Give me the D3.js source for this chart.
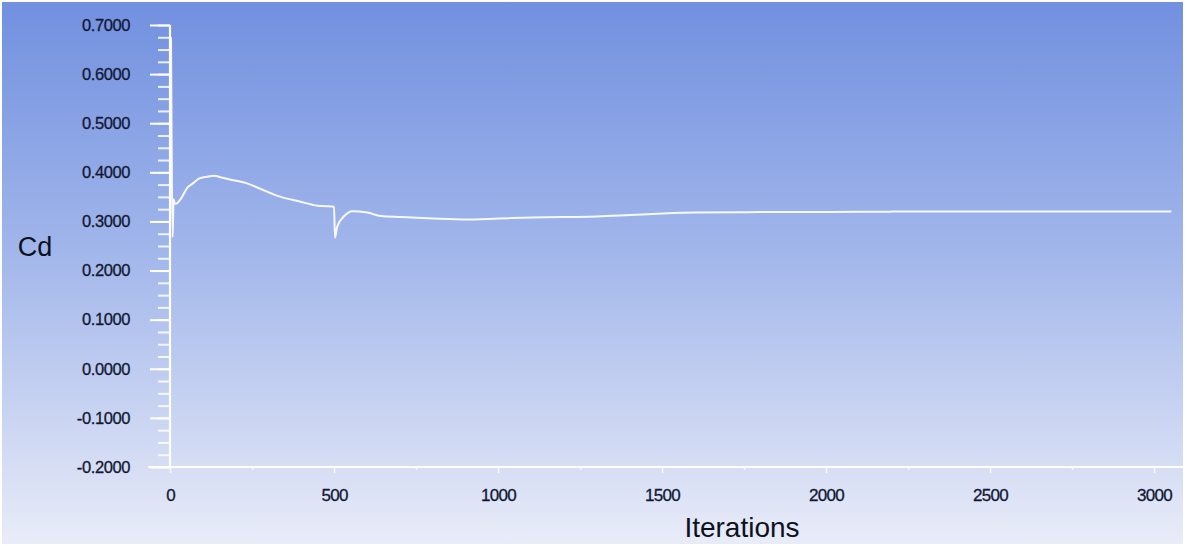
<!DOCTYPE html>
<html>
<head>
<meta charset="utf-8">
<script src="https://cdn.jsdelivr.net/npm/d3@7"></script>
<style>
  html, body { margin: 0; padding: 0; background: #ffffff; }
  svg { display: block; }
</style>
</head>
<body>
<svg id="chart" width="1187" height="546"></svg>
<script>
// ---- data ----
const iterations = [0, 2, 5, 8, 12, 18, 30, 50, 66, 85, 110, 131, 157, 183, 234, 274, 335, 390, 447, 470, 497, 500, 507, 528, 553, 599, 640, 700, 800, 900, 1000, 1100, 1200, 1300, 1400, 1500, 1600, 1800, 2000, 2200, 2500, 2800, 3050];
const cd = [0.675, 0.45, 0.268, 0.345, 0.336, 0.337, 0.346, 0.369, 0.377, 0.387, 0.391, 0.393, 0.389, 0.385, 0.377, 0.366, 0.350, 0.341, 0.332, 0.331, 0.330, 0.267, 0.290, 0.311, 0.321, 0.318, 0.311, 0.309, 0.306, 0.304, 0.306, 0.308, 0.309, 0.310, 0.313, 0.316, 0.318, 0.319, 0.319, 0.320, 0.320, 0.320, 0.320];
const xTicks = [0, 500, 1000, 1500, 2000, 2500, 3000];
const xMinorTicks = [250, 750, 1250, 1750, 2250, 2750];
const yTicks = [0.7, 0.6, 0.5, 0.4, 0.3, 0.2, 0.1, 0.0, -0.1, -0.2];
const xTitle = "Iterations";
const yTitle = "Cd";

const svg = d3.select("#chart");
const W = 1187, H = 546;

// background gradient
const defs = svg.append("defs");
const grad = defs.append("linearGradient").attr("id", "bg")
  .attr("x1", 0).attr("y1", 0).attr("x2", 0).attr("y2", 1);
grad.append("stop").attr("offset", "0%").attr("stop-color", "#7190df");
grad.append("stop").attr("offset", "45%").attr("stop-color", "#a0b5ea");
grad.append("stop").attr("offset", "100%").attr("stop-color", "#e9ecf8");
svg.append("rect").attr("x", 2).attr("y", 2).attr("width", W - 6).attr("height", H - 4)
  .attr("fill", "url(#bg)");

const x = d3.scaleLinear().domain([0, 3000]).range([170, 1154]);
const y = d3.scaleLinear().domain([-0.2, 0.7]).range([467, 25]);

const font = "'Liberation Sans', Arial, sans-serif";
const txt = "#121833";
const fmtY = d => d3.format(".4f")(d).replace("\u2212", "-");

// y axis
const yMinor = d3.range(-0.2, 0.7001, 0.025).map(v => +v.toFixed(3));
const yAxis = d3.axisLeft(y).tickValues(yTicks).tickSize(20).tickPadding(20).tickFormat(fmtY);
const gy = svg.append("g").attr("transform", `translate(${x(0)},0)`);
gy.append("g").call(d3.axisLeft(y).tickValues(yMinor).tickSize(12).tickFormat(""))
  .call(g => g.select(".domain").remove())
  .selectAll("line").attr("stroke", "#ffffff").attr("stroke-width", 2).attr("stroke-opacity", 0.85);
gy.append("g").call(yAxis)
  .call(g => g.select(".domain").remove())
  .call(g => g.selectAll("line").attr("stroke", "#ffffff").attr("stroke-width", 2))
  .call(g => g.selectAll("text").attr("fill", txt).attr("font-family", font)
    .attr("font-size", 16.5).attr("letter-spacing", -0.4)
    .attr("stroke", txt).attr("stroke-width", 0.3));
gy.append("line").attr("x1", 0).attr("x2", 0).attr("y1", y(0.7)).attr("y2", y(-0.2))
  .attr("stroke", "#ffffff").attr("stroke-width", 2.2);

// x axis
const gx = svg.append("g").attr("transform", `translate(0,${y(-0.2)})`);
gx.append("line").attr("x1", 148).attr("x2", W - 4).attr("y1", 0).attr("y2", 0)
  .attr("stroke", "#ffffff").attr("stroke-width", 2);
gx.append("g").call(d3.axisBottom(x).tickValues(xMinorTicks).tickSize(3).tickFormat(""))
  .call(g => g.select(".domain").remove())
  .selectAll("line").attr("stroke", "#ffffff").attr("stroke-width", 1.5).attr("stroke-opacity", 0.8);
gx.append("g").call(d3.axisBottom(x).tickValues(xTicks).tickSize(6).tickPadding(16)
    .tickFormat(d3.format("d")))
  .call(g => g.select(".domain").remove())
  .call(g => g.selectAll("line").attr("stroke", "#ffffff").attr("stroke-width", 1.5).attr("stroke-opacity", 0.8))
  .call(g => g.selectAll("text").attr("fill", txt).attr("font-family", font)
    .attr("font-size", 17).attr("letter-spacing", -0.7)
    .attr("stroke", txt).attr("stroke-width", 0.3));

// titles
svg.append("text").attr("x", 742).attr("y", 537).attr("text-anchor", "middle")
  .attr("font-family", font).attr("font-size", 28).attr("fill", "#0e1220").text(xTitle);
svg.append("text").attr("x", 35).attr("y", 256).attr("text-anchor", "middle")
  .attr("font-family", font).attr("font-size", 27).attr("fill", "#0e1220").text(yTitle);

// data line
const pts = iterations.map((it, i) => [it, cd[i]]);
svg.append("path").datum(pts)
  .attr("fill", "none").attr("stroke", "#ffffff").attr("stroke-opacity", 0.92)
  .attr("stroke-width", 2).attr("stroke-linejoin", "round")
  .attr("d", d3.line().curve(d3.curveMonotoneX).x(d => x(d[0]) + 1).y(d => y(d[1])));
</script>
</body>
</html>
